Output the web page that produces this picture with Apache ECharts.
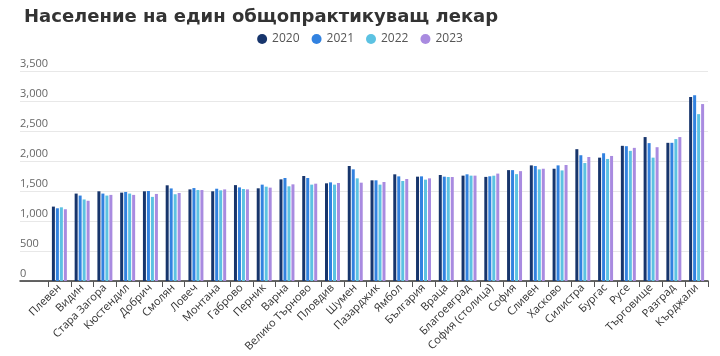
<!DOCTYPE html>
<html><head><meta charset="utf-8">
<script src="https://cdn.jsdelivr.net/npm/echarts@6/dist/echarts.min.js"></script>
<style>html,body{margin:0;padding:0;background:#fff}#c{width:720px;height:356px}</style>
</head><body><div id="c"></div>
<script>
const categories = ['Плевен','Видин','Стара Загора','Кюстендил','Добрич','Смолян','Ловеч','Монтана','Габрово','Перник','Варна','Велико Търново','Пловдив','Шумен','Пазарджик','Ямбол','България','Враца','Благоевград','София (столица)','София','Сливен','Хасково','Силистра','Бургас','Русе','Търговище','Разград','Кърджали'];
const years = ['2020','2021','2022','2023'];
const v2020 = [1240,1457,1495,1473,1495,1595,1527,1495,1598,1545,1694,1750,1628,1917,1678,1778,1739,1767,1756,1735,1848,1927,1871,2197,2056,2253,2399,2303,3067];
const v2021 = [1212,1424,1457,1484,1500,1543,1549,1538,1560,1606,1717,1717,1644,1861,1678,1744,1744,1739,1778,1745,1848,1916,1927,2096,2129,2247,2298,2303,3096];
const v2022 = [1228,1359,1424,1457,1402,1446,1516,1511,1533,1572,1578,1606,1606,1711,1606,1667,1689,1733,1756,1755,1781,1860,1843,1966,2034,2169,2056,2365,2781];
const v2023 = [1196,1337,1435,1435,1451,1467,1516,1527,1527,1556,1611,1622,1633,1639,1650,1700,1711,1733,1756,1790,1831,1871,1933,2067,2084,2219,2230,2399,2949];
const yTicks = [0,500,1000,1500,2000,2500,3000,3500];
const colors = ['#17356c','#3282e0','#5cc2e2','#a98be0'];
const values = [v2020,v2021,v2022,v2023];

const chart = echarts.init(document.getElementById('c'));
chart.setOption({
  animation:false,
  color: colors,
  title:{text:'Население на един общопрактикуващ лекар',left:19,top:3,
    textStyle:{fontFamily:'DejaVu Sans',fontWeight:'bold',fontSize:18,color:'#333'}},
  legend:{top:28,left:'center',icon:'circle',itemWidth:10,itemHeight:10,itemGap:12,
    textStyle:{fontFamily:'Open Sans',fontSize:12,color:'#555'},data:years},
  grid:[{left:20,right:12,top:71,bottom:75},{left:48,right:12,top:71,bottom:75}],
  xAxis:[
    {gridIndex:0,type:'category',data:[''],axisLine:{lineStyle:{color:'#333',width:1.5}},axisTick:{show:false},axisLabel:{show:false}},
    {gridIndex:1,type:'category',data:categories,axisLine:{show:false},
     axisTick:{show:true,length:6,lineStyle:{color:'#555'}},
     axisLabel:{interval:0,rotate:45,margin:5,fontFamily:'Open Sans',fontSize:11,color:'#333'}}
  ],
  yAxis:[
    {gridIndex:0,type:'value',min:yTicks[0],max:yTicks[yTicks.length-1],interval:500,
     axisLine:{show:false},axisTick:{show:false},
     splitLine:{lineStyle:{color:'#e8e8e8',width:1}},
     axisLabel:{inside:true,margin:0,align:'left',verticalAlign:'bottom',padding:[0,0,2,0],
       fontFamily:'Open Sans',fontSize:11,color:'#666',
       formatter:v=>v.toLocaleString('en-US')}},
    {gridIndex:1,type:'value',min:yTicks[0],max:yTicks[yTicks.length-1],interval:500,show:false}
  ],
  series: years.map((y,i)=>({name:y,type:'bar',xAxisIndex:1,yAxisIndex:1,data:values[i],
    barWidth:3,barGap:'33%',itemStyle:{color:colors[i]}}))
});
</script></body></html>
